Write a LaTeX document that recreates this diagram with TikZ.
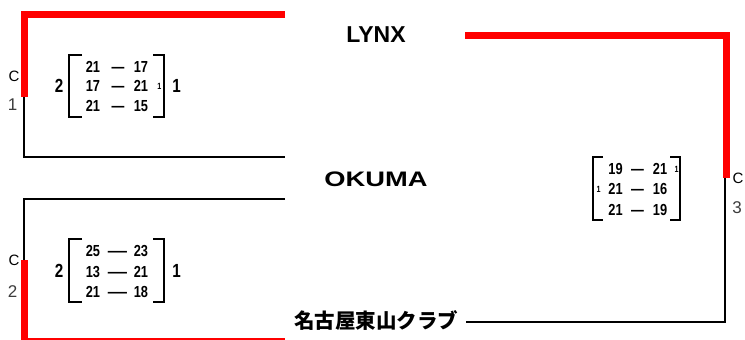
\documentclass[tikz,border=0pt]{standalone}
\usepackage{fontspec}
\setmainfont{Liberation Sans}
\newfontfamily\scorefont[FakeStretch=0.8]{Liberation Sans}
\newfontfamily\jpfont{Noto Sans CJK JP}
\definecolor{brred}{RGB}{255,0,0}
\definecolor{labgray}{RGB}{60,60,60}
\tikzset{
  redline/.style={draw=brred, line width=7pt},
  redthin/.style={draw=brred, line width=1.5pt},
  blackline/.style={draw=black, line width=2pt},
  bracketline/.style={draw=black, line width=2pt},
  team/.style={inner sep=0pt, font=\bfseries\fontsize{23}{23}\selectfont},
  score/.style={inner sep=0pt, text height=11.5pt, text depth=0pt, font=\scorefont\bfseries\fontsize{16}{16}\selectfont},
  setnum/.style={inner sep=0pt, text height=13.5pt, text depth=0pt, font=\scorefont\bfseries\fontsize{19}{19}\selectfont},
  tiny1/.style={inner sep=0pt, text height=6.5pt, text depth=0pt, font=\scorefont\bfseries\fontsize{9}{9}\selectfont},
  clab/.style={inner sep=0pt, font=\fontsize{15}{15}\selectfont},
  nlab/.style={inner sep=0pt, text=labgray, font=\fontsize{17}{17}\selectfont},
}
\begin{document}
\begin{tikzpicture}[x=1pt,y=-1pt]
\useasboundingbox (0,0) rectangle (745,340);
% ---------- team names ----------
\node[team] (lynx) at (376,35) {LYNX};
\node[team, font=\bfseries\fontsize{21}{21}\selectfont] (okuma) at (376,179) {\scalebox{1.3}[1]{OKUMA}};
\node[inner sep=0pt, font=\jpfont\bfseries\fontsize{20.5}{20.5}\selectfont] (higashi) at (376,321) {名古屋東山クラブ};
% ---------- bracket coordinates ----------
\coordinate (t1a) at (285,14);
\coordinate (t1b) at (24.5,14);
\coordinate (t1c) at (24.5,97);
\coordinate (t1d) at (24,97);
\coordinate (t1e) at (24,157);
\coordinate (t1f) at (285,157);
\coordinate (t2a) at (285,199);
\coordinate (t2b) at (24,199);
\coordinate (t2c) at (24,260);
\coordinate (t2d) at (24.5,260);
\coordinate (t2e) at (24.5,340);
\coordinate (t2f) at (21,339);
\coordinate (t2g) at (285,339);
\coordinate (r1a) at (465,35.5);
\coordinate (r1b) at (726.5,35.5);
\coordinate (r1c) at (726.5,178);
\coordinate (r1d) at (725,178);
\coordinate (r1e) at (725,322);
\coordinate (r1f) at (466,322);
% ---------- bracket lines ----------
\draw[redline] (t1a) -- (t1b) -- (t1c);
\draw[blackline] (t1d) -- (t1e) -- (t1f);
\draw[blackline] (t2a) -- (t2b) -- (t2c);
\draw[redline] (t2d) -- (t2e);
\draw[redthin] (t2f) -- (t2g);
\draw[redline] (r1a) -- (r1b) -- (r1c);
\draw[blackline] (r1d) -- (r1e) -- (r1f);
% ---------- C / seed labels ----------
\node[clab] (c1) at (14,76) {C};
\node[nlab] (n1) at (12.5,105) {1};
\node[clab] (c2) at (14,260) {C};
\node[nlab] (n2) at (12.5,292) {2};
\node[clab] (c3) at (738,178) {C};
\node[nlab] (n3) at (737,208) {3};
% ---------- score box 1 ----------
\node[setnum] (s1l) at (59,86) {2};
\node[setnum] (s1r) at (176.5,86) {1};
\draw[bracketline] (82,55) -- (68.5,55) -- (68.5,117) -- (82,117);
\draw[bracketline] (153,55) -- (164,55) -- (164,117) -- (153,117);
\node[score] (a11) at (93,67) {21};
\node[score] (d11) at (118,67) {—};
\node[score] (b11) at (141,67) {17};
\node[score] (a12) at (93,86) {17};
\node[score] (d12) at (118,86) {—};
\node[score] (b12) at (141,86) {21};
\node[score] (a13) at (93,106) {21};
\node[score] (d13) at (118,106) {—};
\node[score] (b13) at (141,106) {15};
\node[tiny1] (x12) at (159.5,86.5) {1};
% ---------- score box 2 ----------
\node[setnum] (s2l) at (59,271) {2};
\node[setnum] (s2r) at (176.5,271) {1};
\draw[bracketline] (82,239) -- (68.5,239) -- (68.5,302) -- (82,302);
\draw[bracketline] (153,239) -- (164,239) -- (164,302) -- (153,302);
\node[score] (a21) at (93,251) {25};
\node[score] (d21) at (117.5,251) {\scalebox{1.5}[1]{—}};
\node[score] (b21) at (141,251) {23};
\node[score] (a22) at (93,272) {13};
\node[score] (d22) at (117.5,272) {\scalebox{1.5}[1]{—}};
\node[score] (b22) at (141,272) {21};
\node[score] (a23) at (93,292) {21};
\node[score] (d23) at (117.5,292) {\scalebox{1.5}[1]{—}};
\node[score] (b23) at (141,292) {18};
% ---------- score box 3 ----------
\draw[bracketline] (603,157) -- (593,157) -- (593,220) -- (603,220);
\draw[bracketline] (670,157) -- (680,157) -- (680,220) -- (670,220);
\node[score] (a31) at (615.5,169) {19};
\node[score] (d31) at (637.5,169) {—};
\node[score] (b31) at (660,169) {21};
\node[score] (a32) at (615.5,189) {21};
\node[score] (d32) at (637.5,189) {—};
\node[score] (b32) at (660,189) {16};
\node[score] (a33) at (615.5,210) {21};
\node[score] (d33) at (637.5,210) {—};
\node[score] (b33) at (660,210) {19};
\node[tiny1] (x31) at (676.5,169) {1};
\node[tiny1] (x32) at (598.5,189.5) {1};
\end{tikzpicture}
\end{document}
